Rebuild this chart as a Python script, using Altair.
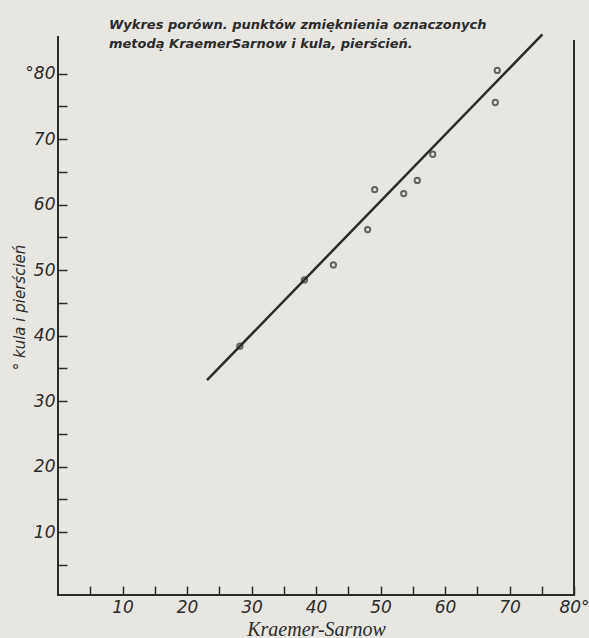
import altair as alt
import pandas as pd

# --- data ---
kraemer_sarnow = [28.2, 38.2, 42.7, 48.0, 49.1, 53.6, 55.7, 58.1, 67.8, 68.1]
kula_pierscien = [38.4, 48.5, 50.8, 56.2, 62.3, 61.7, 63.7, 67.7, 75.6, 80.5]
fit_x = [23.1, 75.1]
fit_y = [33.2, 86.0]
x_domain = [0, 80]
y_domain = [0.4, 85.6]
right_edge_top = 85.0
x_ticks = list(range(5, 81, 5))
y_ticks = list(range(5, 81, 5))
title_line1 = "Wykres porówn. punktów zmięknienia oznaczonych"
title_line2 = "\u00a0\u00a0metodą KraemerSarnow i kula, pierścień."
x_title = "Kraemer-Sarnow"
y_title = "° kula i pierścień"

INK = "#2b2b2b"
PAPER = "#e8e6e0"
FONT = "DejaVu Sans"

pts = pd.DataFrame({"ks": kraemer_sarnow, "kp": kula_pierscien})
fit = pd.DataFrame({"ks": fit_x, "kp": fit_y})
frame = pd.DataFrame({
    "x": [x_domain[0], x_domain[0], x_domain[1]],
    "y": [y_domain[0], y_domain[0], y_domain[0]],
    "x2": [x_domain[0], x_domain[1], x_domain[1]],
    "y2": [y_domain[1], y_domain[0], right_edge_top],
})

xs = alt.Scale(domain=x_domain, nice=False, zero=False)
ys = alt.Scale(domain=y_domain, nice=False, zero=False)

x_axis = alt.Axis(
    values=x_ticks,
    labelExpr="datum.value % 10 ? '' : (datum.value >= 80 ? datum.label + '°' : datum.label)",
    domain=False, grid=False, offset=-9, tickSize=9, tickWidth=1.5, tickColor=INK,
    labelPadding=4, labelFont=FONT, labelFontStyle="italic", labelFontSize=17,
    labelColor=INK, labelFlush=False, labelOverlap=False,
    title=x_title, titleFont="Liberation Serif", titleFontStyle="italic",
    titleFontSize=20, titleFontWeight="normal", titleColor=INK, titlePadding=4,
)
y_axis = alt.Axis(
    values=y_ticks,
    labelExpr="datum.value % 10 ? '' : (datum.value >= 80 ? '°' + datum.label : datum.label)",
    domain=False, grid=False, offset=-9, tickSize=9, tickWidth=1.5, tickColor=INK,
    labelPadding=3, labelFont=FONT, labelFontStyle="italic", labelFontSize=17,
    labelColor=INK, labelFlush=False, labelOverlap=False,
    title=y_title, titleFont=FONT, titleFontStyle="italic", titleFontSize=15,
    titleFontWeight="normal", titleColor=INK, titleAngle=270,
    titleAlign="center", titleBaseline="middle", titleX=-48, titleY=270,
)

base_pts = alt.Chart(pts).mark_point(
    shape="circle", filled=False, size=28, strokeWidth=2, color=INK
).encode(
    x=alt.X("ks:Q", scale=xs, axis=x_axis),
    y=alt.Y("kp:Q", scale=ys, axis=y_axis),
)

line = alt.Chart(fit).mark_line(color=INK, strokeWidth=2.5).encode(
    x=alt.X("ks:Q", scale=xs, axis=x_axis),
    y=alt.Y("kp:Q", scale=ys, axis=y_axis),
)

rules = alt.Chart(frame).mark_rule(color=INK, strokeWidth=2, strokeCap="square").encode(
    x=alt.X("x:Q", scale=xs, axis=x_axis),
    x2="x2:Q",
    y=alt.Y("y:Q", scale=ys, axis=y_axis),
    y2="y2:Q",
)

chart = alt.layer(rules, line, base_pts).properties(
    width=516,
    height=558,
    autosize=alt.AutoSizeParams(type="none"),
    padding={"left": 58, "top": 37, "right": 15, "bottom": 43},
    background=PAPER,
    title=alt.TitleParams(
        text=title_line1, subtitle=title_line2, anchor="start", frame="group",
        dx=51, offset=-22, font=FONT, fontSize=13, fontStyle="italic",
        fontWeight="bold", color=INK, subtitleFont=FONT, subtitleFontSize=13,
        subtitleFontStyle="italic", subtitleFontWeight="bold", subtitleColor=INK,
        subtitlePadding=6,
    ),
).configure_view(stroke=None)

chart.save("out.html", embed_options={"renderer": "svg", "actions": False})
